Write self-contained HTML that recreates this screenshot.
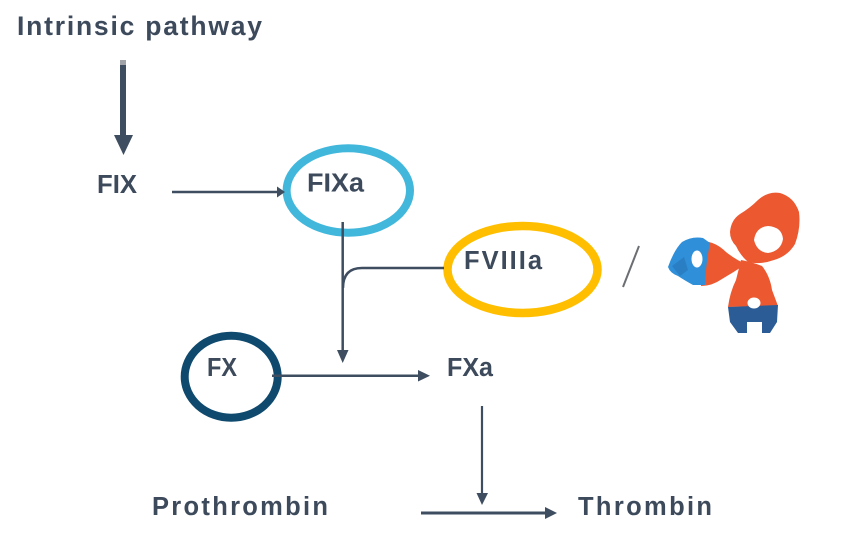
<!DOCTYPE html>
<html>
<head>
<meta charset="utf-8">
<style>
  html, body { margin: 0; padding: 0; background: #ffffff; }
  svg { display: block; }
  text { font-family: "Liberation Sans", "DejaVu Sans", sans-serif; font-weight: bold; fill: #3d4a5c; }
</style>
</head>
<body>
<svg width="856" height="535" viewBox="0 0 856 535" xmlns="http://www.w3.org/2000/svg">
  <rect width="856" height="535" fill="#ffffff"/>

  <!-- Labels -->
  <text x="17" y="35" font-size="26.5" textLength="245" lengthAdjust="spacing">Intrinsic pathway</text>
  <text x="97" y="193" font-size="25.5" textLength="40" lengthAdjust="spacingAndGlyphs">FIX</text>
  <text x="152" y="515" font-size="25.5" textLength="176" lengthAdjust="spacing">Prothrombin</text>
  <text x="578" y="515" font-size="25.5" textLength="134" lengthAdjust="spacing">Thrombin</text>
  <text x="447" y="376" font-size="25.5" textLength="46" lengthAdjust="spacingAndGlyphs">FXa</text>

  <!-- Intrinsic arrow -->
  <rect x="120" y="60" width="6" height="6" fill="#a0a4a8"/>
  <rect x="120" y="65" width="6" height="72" fill="#3e4d60"/>
  <polygon points="114,135 133,135 123.5,155" fill="#3e4d60"/>

  <!-- FIX -> FIXa -->
  <line x1="172" y1="192" x2="280" y2="192" stroke="#3e4d60" stroke-width="2.5"/>

  <!-- Ellipses -->
  <ellipse cx="348.3" cy="190.5" rx="61.7" ry="42.2" fill="none" stroke="#41b7dc" stroke-width="8"/>
  <ellipse cx="522.5" cy="269.5" rx="75" ry="43.5" fill="none" stroke="#ffbf00" stroke-width="8.5"/>
  <ellipse cx="231.2" cy="376.7" rx="46.5" ry="41" fill="none" stroke="#0f4a6e" stroke-width="8"/>

  <polygon points="277,186.5 285,192 277,197.5" fill="#3e4d60"/>

  <text x="307" y="191.7" font-size="25.5" textLength="57" lengthAdjust="spacingAndGlyphs">FIXa</text>
  <text x="464" y="269" font-size="25.5" textLength="78" lengthAdjust="spacing">FVIIIa</text>
  <text x="207" y="376" font-size="25.5" textLength="30" lengthAdjust="spacingAndGlyphs">FX</text>

  <!-- FIXa vertical -->
  <line x1="342.7" y1="222" x2="342.7" y2="352" stroke="#3e4d60" stroke-width="2.5"/>
  <polygon points="337,350 348.5,350 342.7,363" fill="#3e4d60"/>

  <!-- FVIIIa connector -->
  <path d="M 444 268 H 362 Q 343 268 343 288" fill="none" stroke="#3e4d60" stroke-width="2.5"/>

  <!-- FX -> FXa -->
  <line x1="272" y1="375.7" x2="420" y2="375.7" stroke="#3e4d60" stroke-width="2.5"/>
  <polygon points="418,370 430,375.7 418,381.5" fill="#3e4d60"/>

  <!-- FXa down -->
  <line x1="482" y1="406" x2="482" y2="495" stroke="#3e4d60" stroke-width="2.2"/>
  <polygon points="476.5,493 488,493 482,505" fill="#3e4d60"/>

  <!-- Prothrombin -> Thrombin -->
  <line x1="421" y1="513" x2="548" y2="513" stroke="#3e4d60" stroke-width="3"/>
  <polygon points="545,507 557,513 545,519" fill="#3e4d60"/>

  <!-- Slash -->
  <line x1="639" y1="246" x2="623" y2="287" stroke="#6b6e72" stroke-width="2"/>

  <!-- Molecule -->
  <g>
    <!-- stem orange -->
    <path d="M741,260 Q752,262 762,266 Q770,276 772,290 L778,306 L728,307 Q730,292 736,280 Z" fill="#ec5830"/>
    <!-- left arm orange -->
    <path d="M703,241 Q716,242 726,252 Q736,260 746,264 Q734,272 722,279 Q712,286 701,286 Z" fill="#ec5830"/>
    <!-- top loop -->
    <path d="M730,232 Q731,220 740,214 Q750,208 758,200 Q768,191 780,193 Q794,197 799,212 Q801,228 795,244 Q788,256 774,260 Q760,265 748,262 Q740,255 736,246 Q730,240 730,232 Z" fill="#ec5830"/>
    <path d="M754,240 Q756,227 768,226 Q782,227 783,239 Q781,251 768,253 Q757,252 754,240 Z" fill="#ffffff"/>
    <!-- light blue arm -->
    <path d="M668,267 Q674,250 682,242 Q692,236 703,238 L710,243 Q706,262 705,285 L693,285 Q684,280 678,276 Q670,273 668,267 Z" fill="#2f8fd8"/>
    <ellipse cx="697" cy="259" rx="5.5" ry="8.5" fill="#ffffff"/>
    <path d="M672,266 L684,257 L688,270 L680,276 Z" fill="#2a7fc4"/>
    <!-- dark blue bottom -->
    <path d="M728,307 L778,305 L777,322 L770,333 L762,333 L762,322 L747,322 L747,333 L738,333 L730,322 Z" fill="#2c5c96"/>
    <rect x="749" y="323" width="11" height="10" fill="#ffffff"/>
    <ellipse cx="754" cy="303" rx="6.5" ry="5.5" fill="#ffffff"/>
  </g>
</svg>
</body>
</html>
